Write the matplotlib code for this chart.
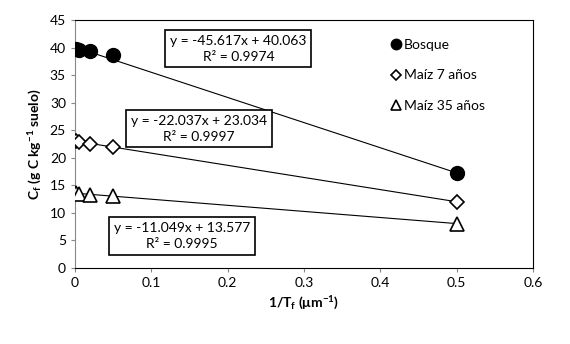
import matplotlib.pyplot as plt
import numpy as np

plt.rcParams['font.family'] = ['Lato', 'DejaVu Sans']
plt.rcParams['mathtext.default'] = 'regular'

# datos
x_vals = [0.001, 0.005, 0.02, 0.05, 0.5]
bosque = [39.7, 39.6, 39.4, 38.6, 17.2]
maiz7 = [23.1, 22.9, 22.5, 22.0, 12.0]
maiz35 = [13.6, 13.5, 13.3, 13.0, 8.0]

fits = [(-45.617, 40.063, 0.9974), (-22.037, 23.034, 0.9997), (-11.049, 13.577, 0.9995)]
series_names = ['Bosque', 'Maíz 7 años', 'Maíz 35 años']

fig = plt.figure(figsize=(5.7, 3.44), dpi=100)
ax = fig.add_axes([0.1316, 0.221, 0.8034, 0.721])

styles = [dict(marker='o', mfc='black', mec='black', ms=10),
          dict(marker='D', mfc='white', mec='black', ms=7, mew=1.2),
          dict(marker='^', mfc='white', mec='black', ms=10, mew=1.2)]

for ys, name, st, (m, b, r2) in zip([bosque, maiz7, maiz35], series_names, styles, fits):
    xl = np.array([0, 0.5])
    ax.plot(xl, m * xl + b, color='black', lw=0.8, zorder=1)
    ax.plot(x_vals, ys, ls='none', label=name, zorder=3, **st)

# cajas de ecuaciones
box = dict(boxstyle='square,pad=0.35', fc='white', ec='black', lw=1.2)
eq_pos = [(0.214, 39.8), (0.162, 25.3), (0.140, 5.8)]
for (m, b, r2), (px, py) in zip(fits, eq_pos):
    ax.text(px, py, 'y = %.3fx + %.3f\nR² = %.4f' % (m, b, r2), ha='center', va='center',
            fontsize=10, linespacing=1.4, bbox=box, zorder=4)

ax.set_xlim(0, 0.6)
ax.set_ylim(0, 45)
ax.set_xticks(np.arange(0, 0.61, 0.1))
ax.set_xticklabels(['0', '0.1', '0.2', '0.3', '0.4', '0.5', '0.6'])
ax.set_yticks(range(0, 46, 5))
ax.tick_params(labelsize=10, length=3, color='#888888')
ax.spines['left'].set_color('#888888')
for s in ['top', 'right', 'bottom']:
    ax.spines[s].set_color('black')
ax.set_xlabel('1/T$_f$ (μm$^{-1}$)', fontsize=10, fontweight='bold')
ax.set_ylabel('C$_f$ (g C kg$^{-1}$ suelo)', fontsize=10, fontweight='bold')

ax.legend(loc='upper left', bbox_to_anchor=(0.655, 0.975), frameon=False, fontsize=10,
          handletextpad=0.0, labelspacing=1.35, handlelength=1.2, markerscale=0.75)

fig.savefig('out.png', dpi=100)
